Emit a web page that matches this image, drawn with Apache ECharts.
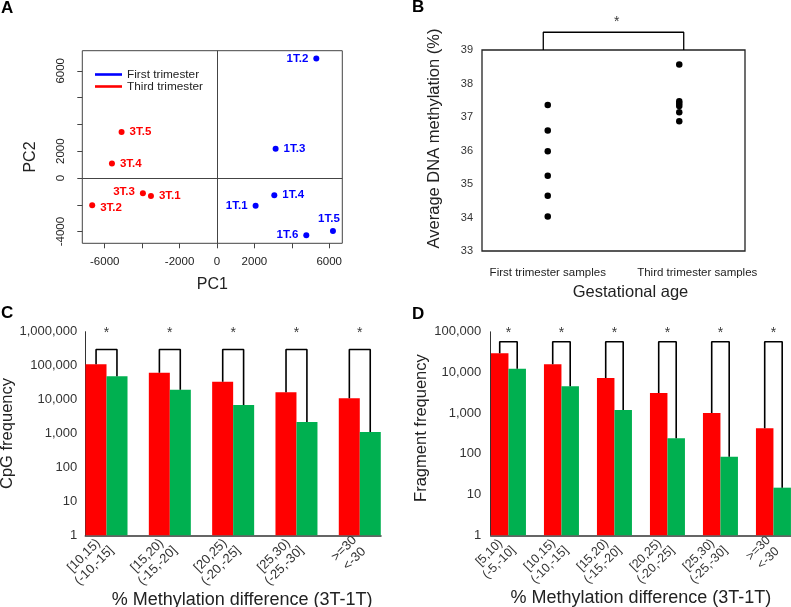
<!DOCTYPE html>
<html>
<head>
<meta charset="utf-8">
<script src="https://cdn.jsdelivr.net/npm/echarts@6/dist/echarts.min.js"></script>
<style>html,body{margin:0;padding:0;background:#fff}#c{width:791px;height:607px}</style>
</head>
<body>
<div id="c"></div>
<script>
// ---- Panel A: PCA ----
const pcNamesFirst = ['1T.1', '1T.2', '1T.3', '1T.4', '1T.5', '1T.6'];
const pc1First = [2065, 5310, 3135, 3065, 6200, 4775];
const pc2First = [-2075, 8910, 2190, -1290, -3955, -4275];
const pcNamesThird = ['3T.1', '3T.2', '3T.3', '3T.4', '3T.5'];
const pc1Third = [-3530, -6670, -3960, -5615, -5100];
const pc2Third = [-1335, -2030, -1140, 1080, 3430];
const pcXTickValues = [-6000, -4000, -2000, 0, 2000, 4000, 6000];
const pcXLabelValues = [-6000, -2000, 0, 2000, 6000];
const pcYTickValues = [-4000, -2000, 0, 2000, 4000, 6000, 8000];
const pcYLabelValues = [-4000, 0, 2000, 8000];
const pcYLabelTexts = ['-4000', '0', '2000', '6000'];
const groupNames = ['First trimester', 'Third trimester'];

// ---- Panel B: average methylation ----
const gestCategories = ['First trimester samples', 'Third trimester samples'];
const methFirst = [37.36, 36.6, 35.98, 35.25, 34.65, 34.03];
const methThird = [38.57, 37.47, 37.40, 37.33, 37.14, 36.87];

// ---- Panel C: CpG frequency ----
const cpgPos = ['[10,15)', '[15,20)', '[20,25)', '[25,30)', '>=30'];
const cpgNeg = ['(-10,-15]', '(-15,-20]', '(-20,-25]', '(-25,-30]', '<-30'];
const cpgHyper = [110000, 62000, 33600, 16400, 10900];
const cpgHypo = [48500, 19500, 6900, 2180, 1110];

// ---- Panel D: Fragment frequency ----
const fragPos = ['[5,10)', '[10,15)', '[15,20)', '[20,25)', '[25,30)', '>=30'];
const fragNeg = ['(-5,-10]', '(-10,-15]', '(-15,-20]', '(-20,-25]', '(-25,-30]', '<-30'];
const fragHyper = [29600, 15900, 7330, 3130, 1010, 426];
const fragHypo = [12400, 4580, 1200, 242, 85, 14.8];

// annotation levels
const bBracketTop = 39.53, bStarLevel = 39.84, bBracketPad = 0.034;
const cBracketTop = 300000, cStarLevel = 900000;
const dBracketTop = 57000, dStarLevel = 92000;
const halfBar = 0.165;

const FONT = 'Liberation Sans, Arial, sans-serif';
const RED = '#ff0000', GREEN = '#00b050';
const CLEAR = 'rgba(0,0,0,0)';
const labelSide = {
  '1T.1': ['left', [0, 0]], '1T.2': ['left', [0, 0]], '1T.3': ['right', [0, 0]],
  '1T.4': ['right', [0, 0]], '1T.5': ['top', [-4, 2]], '1T.6': ['left', [0, 0]],
  '3T.1': ['right', [0, 0]], '3T.2': ['right', [0, 3]], '3T.3': ['left', [0, -1]],
  '3T.4': ['right', [0, 0]], '3T.5': ['right', [0, 0]]
};

function pcData(names, xs, ys) {
  return names.map((n, i) => ({
    name: n, value: [xs[i], ys[i]],
    label: { position: labelSide[n][0], offset: labelSide[n][1] }
  }));
}

const chart = echarts.init(document.getElementById('c'), null, { renderer: 'canvas' });

const nameStyle = { fontFamily: FONT, color: '#222', fontSize: 16.5 };

const series = [];
// A
series.push({
  name: groupNames[0], type: 'scatter', xAxisIndex: 0, yAxisIndex: 0,
  symbolSize: 6, itemStyle: { color: '#0000ff', opacity: 1 },
  data: pcData(pcNamesFirst, pc1First, pc2First),
  label: { show: true, formatter: '{b}', color: '#0000ff', fontWeight: 'bold', fontSize: 11.5, fontFamily: FONT },
  markLine: {
    silent: true, symbol: 'none', label: { show: false },
    lineStyle: { color: '#444', width: 1, type: 'solid' },
    data: [{ xAxis: 0 }, { yAxis: 0 }]
  }
});
series.push({
  name: groupNames[1], type: 'scatter', xAxisIndex: 0, yAxisIndex: 0,
  symbolSize: 6, itemStyle: { color: '#ff0000', opacity: 1 },
  data: pcData(pcNamesThird, pc1Third, pc2Third),
  label: { show: true, formatter: '{b}', color: '#ff0000', fontWeight: 'bold', fontSize: 11.5, fontFamily: FONT }
});
// B
series.push({
  type: 'scatter', xAxisIndex: 1, yAxisIndex: 1, symbolSize: 6.5,
  itemStyle: { color: '#000', opacity: 1 },
  data: methFirst.map(v => [0, v]).concat(methThird.map(v => [1, v]))
});
series.push({
  type: 'line', xAxisIndex: 1, yAxisIndex: 1, clip: false, symbol: 'none',
  lineStyle: { color: '#000', width: 1.3 },
  data: [[-bBracketPad, 39], [-bBracketPad, bBracketTop], [1 + bBracketPad, bBracketTop], [1 + bBracketPad, 39]]
});
series.push({
  type: 'scatter', xAxisIndex: 1, yAxisIndex: 1, symbolSize: 2, clip: false,
  itemStyle: { color: CLEAR },
  label: { show: true, position: 'inside', formatter: '*', fontSize: 14, color: '#000', fontFamily: FONT },
  data: [[0.524, bStarLevel]]
});

function barPanel(xi, hyper, hypo, bracketTop, starLevel, bw) {
  series.push({
    type: 'bar', xAxisIndex: xi, yAxisIndex: xi, barWidth: bw, barGap: '0%',
    itemStyle: { color: RED }, data: hyper.map((v, i) => [i, v])
  });
  series.push({
    type: 'bar', xAxisIndex: xi, yAxisIndex: xi, barWidth: bw, barGap: '0%',
    itemStyle: { color: GREEN }, data: hypo.map((v, i) => [i, v])
  });
  hyper.forEach((v, i) => {
    series.push({
      type: 'line', xAxisIndex: xi, yAxisIndex: xi, symbol: 'none', clip: false,
      lineStyle: { color: '#000', width: 1.6 },
      data: [[i - halfBar, v], [i - halfBar, bracketTop], [i + halfBar, bracketTop], [i + halfBar, hypo[i]]]
    });
  });
  series.push({
    type: 'scatter', xAxisIndex: xi, yAxisIndex: xi, symbolSize: 2, clip: false,
    itemStyle: { color: CLEAR },
    label: { show: true, position: 'inside', formatter: '*', fontSize: 14, color: '#000', fontFamily: FONT },
    data: hyper.map((v, i) => [i, starLevel])
  });
}
barPanel(2, cpgHyper, cpgHypo, cBracketTop, cStarLevel, 21);
barPanel(3, fragHyper, fragHypo, dBracketTop, dStarLevel, 17.5);

function catLabelAxis(gi, pos, neg, fs, nameGap, namePadLeft) {
  return {
    type: 'value', gridIndex: gi, min: -0.335, max: pos.length - 1 + 0.335,
    axisLine: { show: true, onZero: false, lineStyle: { color: '#333', width: 1.5 } },
    axisTick: { show: false },
    splitLine: { show: false },
    axisLabel: {
      customValues: pos.map((p, i) => i), rotate: 45, margin: 8,
      formatter: v => '{a|' + pos[v] + '}\n{a|' + neg[v] + '}',
      rich: { a: { align: 'center', fontSize: fs, fontFamily: FONT, color: '#333', lineHeight: fs + 1.5 } }
    },
    name: '% Methylation difference (3T-1T)', nameLocation: 'middle', nameGap: nameGap,
    nameTextStyle: Object.assign({}, nameStyle, { fontSize: 18, padding: [0, 0, 0, namePadLeft] })
  };
}

const titleStyle = { fontSize: 17, fontWeight: 'bold', fontFamily: FONT, color: '#000' };
const option = {
  animation: false,
  textStyle: { fontFamily: FONT },
  title: [
    { text: 'A', left: 1, top: 0, padding: 0, textStyle: titleStyle },
    { text: 'B', left: 412, top: -1, padding: 0, textStyle: titleStyle },
    { text: 'C', left: 1, top: 305, padding: 0, textStyle: titleStyle },
    { text: 'D', left: 412, top: 306, padding: 0, textStyle: titleStyle }
  ],
  legend: {
    left: 90, top: 63.5, orient: 'vertical', itemWidth: 27, itemHeight: 2.6, itemGap: 0,
    selectedMode: false,
    textStyle: { fontSize: 11.8, fontFamily: FONT, color: '#222' },
    data: [
      { name: groupNames[0], icon: 'rect', itemStyle: { color: '#0000ff' } },
      { name: groupNames[1], icon: 'rect', itemStyle: { color: '#ff0000' } }
    ]
  },
  grid: [
    { left: 82.3, top: 50.7, width: 260, height: 192.6, show: true, borderColor: '#444', borderWidth: 1, backgroundColor: 'transparent', outerBoundsMode: 'none', containLabel: false },
    { left: 482, top: 50, width: 263, height: 201, show: true, borderColor: '#222', borderWidth: 1.3, backgroundColor: 'transparent', outerBoundsMode: 'none', containLabel: false },
    { left: 85.3, top: 331.7, width: 295.7, height: 203.6, outerBoundsMode: 'none', containLabel: false },
    { left: 490.7, top: 331.8, width: 300.5, height: 203.5, outerBoundsMode: 'none', containLabel: false }
  ],
  xAxis: [
    {
      type: 'value', gridIndex: 0, min: -7200, max: 6700,
      axisLine: { show: false, onZero: false }, splitLine: { show: false },
      axisTick: { show: true, length: 5, customValues: pcXTickValues, lineStyle: { color: '#444' } },
      axisLabel: { customValues: pcXLabelValues, margin: 13, fontSize: 11.5, color: '#222', fontFamily: FONT, formatter: v => String(v) },
      name: 'PC1', nameLocation: 'middle', nameGap: 33.5, nameTextStyle: Object.assign({}, nameStyle, { fontSize: 16 })
    },
    {
      type: 'value', gridIndex: 1, min: -0.5, max: 1.5,
      axisLine: { show: false, onZero: false }, splitLine: { show: false }, axisTick: { show: false },
      axisLabel: {
        customValues: [0, 1], margin: 16,
        formatter: v => v === 0 ? '{a|' + gestCategories[0] + '}' : '{b|' + gestCategories[1] + '}',
        rich: {
          a: { fontSize: 11.5, color: '#222', fontFamily: FONT },
          b: { fontSize: 11.5, color: '#222', fontFamily: FONT, padding: [0, 0, 0, 36] }
        }
      },
      name: 'Gestational age', nameLocation: 'middle', nameGap: 32.7,
      nameTextStyle: Object.assign({}, nameStyle, { padding: [0, 0, 0, 34] })
    },
    catLabelAxis(2, cpgPos, cpgNeg, 13, 48.7, 18),
    catLabelAxis(3, fragPos, fragNeg, 12.5, 53.7, 0)
  ],
  yAxis: [
    {
      type: 'value', gridIndex: 0, min: -4870, max: 9500,
      axisLine: { show: false, onZero: false }, splitLine: { show: false },
      axisTick: { show: true, length: 5, customValues: pcYTickValues, lineStyle: { color: '#444' } },
      axisLabel: {
        customValues: pcYLabelValues, rotate: 90, margin: 15, fontSize: 11.5, color: '#222', fontFamily: FONT,
        formatter: v => pcYLabelTexts[pcYLabelValues.indexOf(v)]
      },
      name: 'PC2', nameLocation: 'middle', nameGap: 43.5,
      nameTextStyle: Object.assign({}, nameStyle, { fontSize: 16, padding: [0, 20, 0, 0] })
    },
    {
      type: 'value', gridIndex: 1, min: 33, max: 39, interval: 1,
      axisLine: { show: false, onZero: false }, splitLine: { show: false }, axisTick: { show: false },
      axisLabel: { margin: 9, fontSize: 11, color: '#333', fontFamily: FONT },
      name: 'Average DNA methylation (%)', nameLocation: 'middle', nameGap: 38.8,
      nameTextStyle: Object.assign({}, nameStyle, { padding: [0, 0, 0, 24] })
    },
    {
      type: 'log', gridIndex: 2, min: 1, max: 1000000, logBase: 10,
      axisLine: { show: true, onZero: false, lineStyle: { color: '#333', width: 1 } },
      axisTick: { show: false }, splitLine: { show: false }, minorTick: { show: false },
      axisLabel: { margin: 8, fontSize: 13, color: '#333', fontFamily: FONT, formatter: v => Math.round(v).toLocaleString('en-US') },
      name: 'CpG frequency', nameLocation: 'middle', nameGap: 61.6, nameTextStyle: nameStyle
    },
    {
      type: 'log', gridIndex: 3, min: 1, max: 100000, logBase: 10,
      axisLine: { show: true, onZero: false, lineStyle: { color: '#333', width: 1 } },
      axisTick: { show: false }, splitLine: { show: false }, minorTick: { show: false },
      axisLabel: { margin: 9.5, fontSize: 13, color: '#333', fontFamily: FONT, formatter: v => Math.round(v).toLocaleString('en-US') },
      name: 'Fragment frequency', nameLocation: 'middle', nameGap: 54.5,
      nameTextStyle: Object.assign({}, nameStyle, { padding: [0, 0, 0, 11] })
    }
  ],
  series: series
};
chart.setOption(option);
</script>
</body>
</html>
